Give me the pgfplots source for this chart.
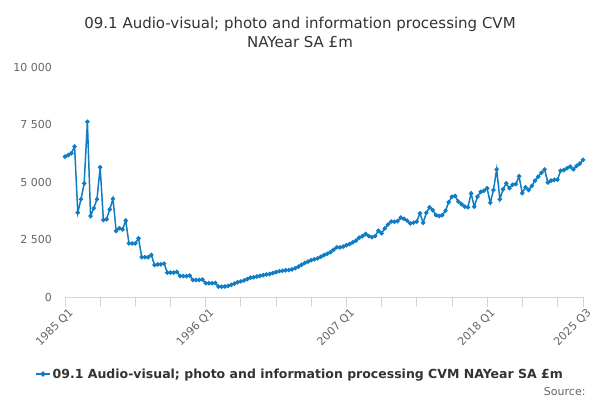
\documentclass[border=0pt]{standalone}
\usepackage{fontspec}
\setmainfont{DejaVu Sans}
\usepackage{pgfplots}
\pgfplotsset{compat=1.18}
\definecolor{onsblue}{HTML}{0F7CC4}
\definecolor{txt}{HTML}{333333}
\definecolor{tick}{HTML}{666666}
\definecolor{gridc}{HTML}{E6E6E6}
\definecolor{axc}{HTML}{CCD6EB}
\begin{document}
\begin{tikzpicture}
\path[use as bounding box,fill=white] (0pt,0pt) rectangle (600pt,400pt);
\node[font=\fontsize{15}{19}\selectfont,color=txt,align=center] at (300pt,368pt) {09.1 Audio-visual; photo and information processing CVM\\NAYear SA £m};
\node[font=\fontsize{11}{13}\selectfont,color=tick,anchor=south east] at (589pt,1pt) {Source:};
\begin{axis}[
  at={(65pt,103pt)}, anchor=south west,
  scale only axis, width=518pt, height=230pt,
  xmin=0, xmax=162, ymin=0, ymax=10000,
  axis x line*=bottom,
  axis y line=none,
  x axis line style={draw=axc, line width=0.8pt, -},
  ytick={0,2500,5000,7500,10000},
  yticklabels={},
  ymajorgrids, grid style={gridc, line width=0.8pt},
  xtick={0,44,88,132,162},
  xticklabels={1985 Q1,1996 Q1,2007 Q1,2018 Q1,2025 Q3},
  minor xtick={11,22,33,55,66,77,99,110,121,143,154},
  tick align=outside, major tick length=10pt, minor tick length=10pt,
  xtick style={draw=axc, line width=0.8pt},
  minor tick style={draw=axc, line width=0.8pt},
  xticklabel style={rotate=45, anchor=east, font=\fontsize{11}{13}\selectfont, color=tick, inner sep=1pt, xshift=3pt, yshift=-7pt},
  legend style={at={(0.4537,-0.335)}, anchor=center, draw=none, fill=none, font=\bfseries\fontsize{12.5}{15}\selectfont, text=txt},
  legend image code/.code={\draw[#1, line width=1.5pt] (0pt,0pt) -- (14pt,0pt); \fill[onsblue] (7pt,0pt) circle (1.8pt);},
]
\addplot[onsblue, line width=1.5pt, mark=*, mark size=1.4pt, mark options={fill=onsblue,draw=onsblue}] table[x index=0,y index=1] {
0 6100
1 6170
2 6250
3 6540
4 3670
5 4250
6 4940
7 7620
8 3520
9 3860
10 4250
11 5640
12 3350
13 3380
14 3810
15 4270
16 2870
17 2990
18 2940
19 3320
20 2330
21 2330
22 2330
23 2550
24 1730
25 1730
26 1730
27 1830
28 1390
29 1420
30 1420
31 1450
32 1060
33 1060
34 1060
35 1090
36 910
37 910
38 910
39 930
40 740
41 740
42 740
43 760
44 600
45 600
46 600
47 610
48 450
49 450
50 460
51 480
52 530
53 580
54 640
55 680
56 720
57 780
58 840
59 860
60 890
61 920
62 950
63 980
64 1000
65 1040
66 1080
67 1120
68 1140
69 1160
70 1170
71 1200
72 1250
73 1320
74 1400
75 1480
76 1540
77 1600
78 1640
79 1680
80 1750
81 1820
82 1880
83 1950
84 2050
85 2160
86 2160
87 2190
88 2250
89 2300
90 2380
91 2450
92 2580
93 2640
94 2740
95 2650
96 2600
97 2650
98 2880
99 2770
100 2980
101 3150
102 3280
103 3270
104 3300
105 3450
106 3400
107 3320
108 3200
109 3230
110 3280
111 3640
112 3230
113 3660
114 3900
115 3780
116 3560
117 3520
118 3560
119 3750
120 4120
121 4360
122 4390
123 4150
124 4040
125 3930
126 3900
127 4500
128 3930
129 4360
130 4570
131 4620
132 4730
133 4100
134 4650
135 5550
136 4250
137 4680
138 4940
139 4730
140 4880
141 4910
142 5250
143 4520
144 4770
145 4650
146 4830
147 5060
148 5230
149 5400
150 5550
151 4980
152 5060
153 5090
154 5100
155 5490
156 5520
157 5600
158 5670
159 5550
160 5700
161 5800
162 5960
};
\addlegendentry{09.1 Audio-visual; photo and information processing CVM NAYear SA £m}
\end{axis}
\foreach \v/\l in {0/0,2500/2 500,5000/5 000,7500/7 500,10000/10 000}{
  \node[anchor=east,font=\fontsize{11}{13}\selectfont,color=tick,inner sep=0pt] at (52pt,{103pt+\v*0.023pt}) {\l};
}
\end{tikzpicture}
\end{document}
